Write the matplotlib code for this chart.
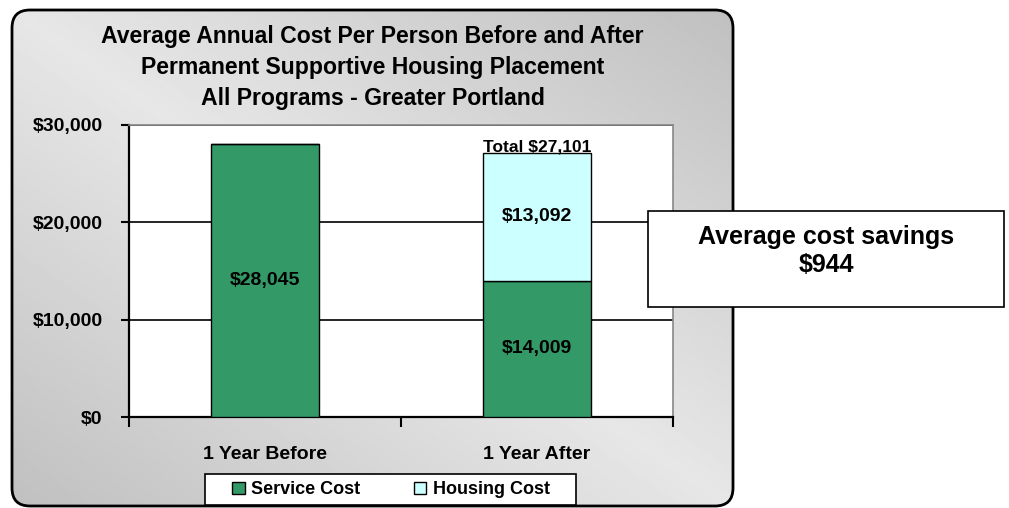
import numpy as np
import matplotlib
matplotlib.use('Agg')
import matplotlib.pyplot as plt
from matplotlib.patches import FancyBboxPatch, Rectangle, Patch

# data
categories = ['1 Year Before', '1 Year After']
service_cost = [28045, 14009]
housing_cost = [0, 13092]
y_ticks = [0, 10000, 20000, 30000]
title_lines = ['Average Annual Cost Per Person Before and After',
               'Permanent Supportive Housing Placement',
               'All Programs - Greater Portland']

green = '#339966'
cyan = '#ccffff'

plt.rcParams['font.family'] = ['Liberation Sans', 'DejaVu Sans']
plt.rcParams['font.weight'] = 'bold'

W, H = 1009, 508
fig = plt.figure(figsize=(W / 100, H / 100), dpi=100, facecolor='white')

# background axes in pixel units (rounded gradient panel)
bg = fig.add_axes([0, 0, 1, 1], zorder=0)
bg.set_xlim(0, W)
bg.set_ylim(H, 0)
bg.axis('off')
box = FancyBboxPatch((12, 10), 721, 496, boxstyle='round,pad=0,rounding_size=18',
                     facecolor='none', edgecolor='black', lw=2, zorder=3)
bg.add_patch(box)
u = np.linspace(0, 1, 400)
v = np.linspace(0, 1, 300)
U, V = np.meshgrid(u, v)
shade = 0.905 - (0.905 - 0.753) * np.abs(U - V)
img = bg.imshow(shade, cmap='gray', vmin=0, vmax=1, extent=(12, 733, 506, 10),
                aspect='auto', zorder=1, interpolation='bilinear')
img.set_clip_path(box)

for i, line in enumerate(title_lines):
    bg.text(372.5, 43 + i * 31, line, ha='center', va='baseline', fontsize=16.6,
            fontweight='bold', zorder=4)

# main plot
ax = fig.add_axes([129 / W, 1 - 417 / H, 544 / W, 292 / H], zorder=2)
ax.set_facecolor('white')
x = np.arange(len(categories))
ax.bar(x, service_cost, width=0.4, color=green, edgecolor='black', lw=1, zorder=3)
ax.bar(x, housing_cost, width=0.4, bottom=service_cost, color=cyan,
       edgecolor='black', lw=1, zorder=3)

for xi, s, h in zip(x, service_cost, housing_cost):
    ax.text(xi, s / 2, f'${s:,}', ha='center', va='center', fontsize=14,
            fontweight='bold', zorder=4)
    if h > 0:
        ax.text(xi, s + h / 2, f'${h:,}', ha='center', va='center', fontsize=14,
                fontweight='bold', zorder=4)
        ax.text(xi, s + h - 150, f'Total ${s + h:,}', ha='center', va='bottom',
                fontsize=12.5, fontweight='bold', zorder=4)

ax.set_xlim(-0.5, len(categories) - 0.5)
ax.set_ylim(0, 30000)
ax.set_yticks(y_ticks)
ax.set_yticklabels([f'${t:,}' for t in y_ticks], fontsize=14, fontweight='bold')
ax.set_xticks(x)
ax.set_xticklabels(categories, fontsize=14, fontweight='bold')
ax.set_xticks(np.arange(len(categories) + 1) - 0.5, minor=True)
ax.tick_params(axis='x', which='major', length=0, pad=21)
ax.tick_params(axis='x', which='minor', length=7, width=1.5, direction='out')
ax.tick_params(axis='y', length=6, width=1.5, direction='out', pad=13)
ax.yaxis.grid(True, color='black', lw=1.2)
ax.set_axisbelow(True)
for side in ['left', 'bottom']:
    ax.spines[side].set_linewidth(1.6)
    ax.spines[side].set_color('black')
for side in ['top', 'right']:
    ax.spines[side].set_linewidth(1.2)
    ax.spines[side].set_color('#888888')

# overlay: savings box and legend
ov = fig.add_axes([0, 0, 1, 1], zorder=5)
ov.set_xlim(0, W)
ov.set_ylim(H, 0)
ov.axis('off')
ov.patch.set_alpha(0)
ov.add_patch(Rectangle((648, 211), 356, 96, facecolor='white', edgecolor='black', lw=1.2))
savings = service_cost[0] - (service_cost[1] + housing_cost[1])
ov.text(826, 237, 'Average cost savings', ha='center', va='center', fontsize=18,
        fontweight='bold')
ov.text(826, 265, f'${savings:,}', ha='center', va='center', fontsize=18,
        fontweight='bold')

ov.add_patch(Rectangle((205, 474), 371, 31, facecolor='white', edgecolor='black', lw=1.2))
handles = [Patch(facecolor=green, edgecolor='black', lw=1),
           Patch(facecolor=cyan, edgecolor='black', lw=1)]
ov.legend(handles, ['Service Cost', 'Housing Cost'], loc='center',
          bbox_to_anchor=(391 / W, 1 - 489.5 / H), bbox_transform=fig.transFigure,
          ncol=2, frameon=False, prop={'size': 13, 'weight': 'bold'},
          handlelength=0.67, handleheight=0.67, handletextpad=0.35,
          columnspacing=3.0, borderpad=0)

fig.savefig('out.png', dpi=100, facecolor='white')
